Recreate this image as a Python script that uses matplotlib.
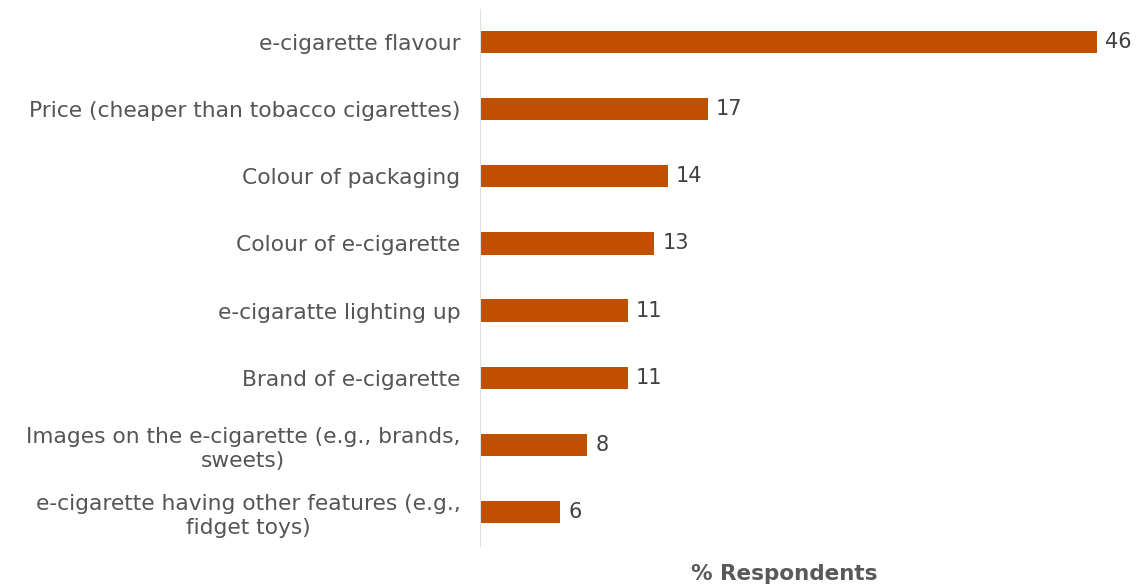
import numpy as np
import matplotlib.pyplot as plt

categories = ['e-cigarette flavour',
              'Price (cheaper than tobacco cigarettes)',
              'Colour of packaging',
              'Colour of e-cigarette',
              'e-cigaratte lighting up',
              'Brand of e-cigarette',
              'Images on the e-cigarette (e.g., brands,\nsweets)',
              'e-cigarette having other features (e.g.,\nfidget toys)']
values = [46, 17, 14, 13, 11, 11, 8, 6]

bar_color = '#C04F00'
text_color = '#555555'

fig = plt.figure(figsize=(11.38, 5.86), dpi=100)
ax = fig.add_axes([480/1138, 1-545.5/586, 1-480/1138, (545.5-8.5)/586])

y = np.arange(len(categories))
ax.barh(y, values, height=0.33, color=bar_color)
ax.set_ylim(len(categories)-0.5, -0.5)
ax.set_xlim(0, 49.07)

for yi, v in zip(y, values):
    ax.text(v + 0.6, yi, str(v), va='center', ha='left', fontsize=15, color='#404040')

ax.set_yticks(y)
ax.set_yticklabels(categories, fontsize=15.7, color=text_color, ha='right', linespacing=1.25)
ax.tick_params(axis='y', length=0, pad=14)
for lab in ax.get_yticklabels():
    lab.set_multialignment('center')
ax.set_xticks([])

for s in ['top', 'right', 'bottom']:
    ax.spines[s].set_visible(False)
ax.spines['left'].set_color('#e0e0e0')

ax.set_xlabel('% Respondents', fontsize=15.5, fontweight='bold', color='#595959')
ax.xaxis.set_label_coords((784-480)/658, -18/537)

fig.savefig('out.png', dpi=100)
